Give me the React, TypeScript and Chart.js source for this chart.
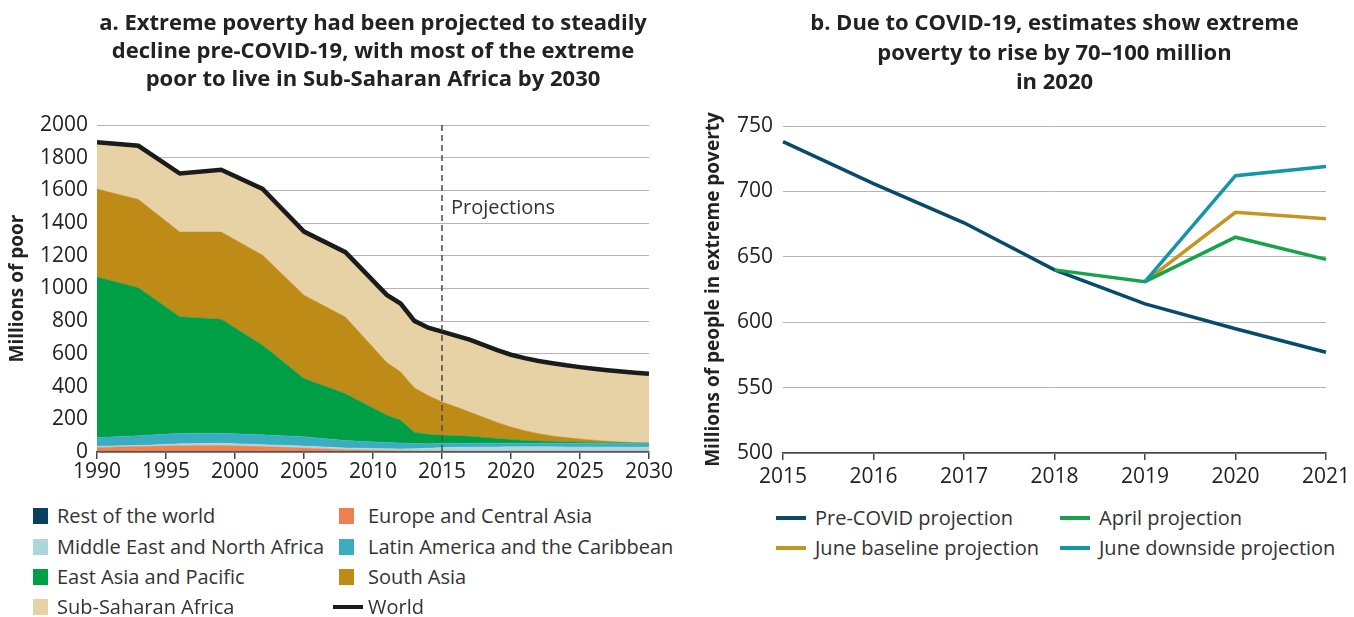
import React, { useEffect, useRef } from 'react';
import { Chart, registerables } from 'chart.js';
Chart.register(...registerables);

const FONT = '"Open Sans", Roboto, "Noto Sans", sans-serif';

// ---- Panel a data (millions of poor) ----
const years = [1990, 1993, 1996, 1999, 2002, 2005, 2008, 2011, 2012, 2013, 2014, 2015, 2016, 2017, 2018, 2019, 2020, 2021, 2022, 2023, 2024, 2025, 2026, 2027, 2028, 2029, 2030];
const restOfWorld = [2, 2, 2, 2, 2, 2, 2, 2, 2, 2, 2, 2, 2, 2, 2, 2, 2, 2, 2, 2, 2, 2, 2, 2, 2, 2, 2];
const europeCentralAsia = [25, 31, 36, 38, 31, 22, 11, 7, 6, 5, 4, 4, 3, 3, 3, 3, 3, 3, 3, 3, 3, 3, 3, 3, 3, 3, 3];
const middleEastNorthAfrica = [8, 7, 12, 13, 12, 12, 12, 11, 11, 13, 17, 21, 24, 25, 26, 26, 27, 27, 27, 27, 26, 26, 26, 26, 25, 25, 25];
const latinAmerica = [53, 60, 64, 62, 61, 58, 45, 38, 36, 32, 27, 26, 25, 24, 23, 23, 22, 22, 22, 22, 23, 22, 22, 22, 23, 23, 22];
const eastAsiaPacific = [983, 904, 713, 697, 547, 355, 287, 167, 139, 67, 58, 49, 45, 42, 35, 28, 22, 17, 13, 10, 8, 7, 5, 4, 3, 2, 2];
const southAsia = [537, 541, 518, 533, 551, 510, 468, 322, 296, 273, 237, 204, 177, 149, 123, 98, 77, 59, 45, 34, 26, 20, 14, 9, 5, 2, 1];
const subSaharanAfrica = [286, 328, 358, 381, 405, 389, 397, 414, 418, 410, 415, 430, 436, 442, 443, 443, 442, 444, 445, 445, 442, 439, 437, 434, 431, 428, 423];
const world = [1894, 1873, 1703, 1726, 1609, 1348, 1222, 961, 908, 802, 760, 736, 712, 687, 655, 623, 595, 574, 557, 543, 530, 519, 509, 500, 492, 485, 478];
const projectionStartYear = 2015;

// ---- Panel b data (millions of people in extreme poverty) ----
const bYears = ['2015', '2016', '2017', '2018', '2019', '2020', '2021'];
const preCovid = [738, 706, 676, 640, 614, 595, 577];
const aprilProj = [null, null, null, 640, 631, 665, 648];
const juneBaseline = [null, null, null, null, 631, 684, 679];
const juneDownside = [null, null, null, null, 631, 712, 719];

const titleA = ['a. Extreme poverty had been projected to steadily', 'decline pre-COVID-19, with most of the extreme', 'poor to live in Sub-Saharan Africa by 2030'];
const titleB = ['b. Due to COVID-19, estimates show extreme', 'poverty to rise by 70\u2013100 million', 'in 2020'];

const C = {
  row: '#0b3f5e',
  eca: '#ef8050',
  mena: '#acd6dd',
  lac: '#3aaec0',
  eap: '#009e45',
  sa: '#be8c16',
  ssa: '#e6d2a5',
  world: '#1b1b1b',
  pre: '#064b6c',
  april: '#17a34c',
  base: '#c59521',
  down: '#1596a8',
};

const regionsA = [
  { label: 'Rest of the world', data: restOfWorld, color: C.row },
  { label: 'Europe and Central Asia', data: europeCentralAsia, color: C.eca },
  { label: 'Middle East and North Africa', data: middleEastNorthAfrica, color: C.mena },
  { label: 'Latin America and the Caribbean', data: latinAmerica, color: C.lac },
  { label: 'East Asia and Pacific', data: eastAsiaPacific, color: C.eap },
  { label: 'South Asia', data: southAsia, color: C.sa },
  { label: 'Sub-Saharan Africa', data: subSaharanAfrica, color: C.ssa },
];

const projectionsPlugin = {
  id: 'projections',
  afterDatasetsDraw(chart: any) {
    const { ctx, chartArea, scales } = chart;
    const x = scales.x.getPixelForValue(projectionStartYear);
    ctx.save();
    ctx.strokeStyle = '#4a4a4a';
    ctx.lineWidth = 1.5;
    ctx.setLineDash([6, 4]);
    ctx.beginPath();
    ctx.moveTo(x, chartArea.top);
    ctx.lineTo(x, chartArea.bottom);
    ctx.stroke();
    ctx.setLineDash([]);
    ctx.fillStyle = '#333';
    ctx.font = '20px ' + FONT;
    ctx.textBaseline = 'middle';
    ctx.textAlign = 'left';
    ctx.fillText('Projections', x + 9, chartArea.top + 83);
    ctx.restore();
  },
};

const tickFont = { family: FONT, size: 21 };
const axisTitleFont = { family: FONT, size: 19, weight: 'bold' as const, lineHeight: 1.2 };

export default function App() {
  const leftRef = useRef<HTMLCanvasElement>(null);
  const rightRef = useRef<HTMLCanvasElement>(null);

  useEffect(() => {
    const datasets: any[] = regionsA.map((r, i) => ({
      label: r.label,
      data: years.map((y, j) => ({ x: y, y: r.data[j] })),
      backgroundColor: r.color,
      borderColor: r.color,
      borderWidth: 0.5,
      pointRadius: 0,
      fill: i === 0 ? 'origin' : '-1',
      stack: 'regions',
      order: 1,
      tension: 0,
    }));
    datasets.push({
      label: 'World',
      data: years.map((y, j) => ({ x: y, y: world[j] })),
      borderColor: C.world,
      borderWidth: 4.5,
      pointRadius: 0,
      fill: false,
      stack: 'world',
      order: 0,
      tension: 0,
    });

    const left = new Chart(leftRef.current!, {
      type: 'line',
      data: { datasets },
      plugins: [projectionsPlugin],
      options: {
        animation: false,
        responsive: false,
        devicePixelRatio: 1,
        layout: { padding: { left: 0, right: 31, top: 0, bottom: 0 } },
        plugins: {
          legend: { display: false },
          tooltip: { enabled: false },
          title: {
            display: true,
            text: titleA,
            font: { family: FONT, size: 22, weight: 'bold', lineHeight: 28 / 22 },
            color: '#222',
            fullSize: false,
            padding: { top: 9.5, bottom: 31.5 },
          },
        },
        scales: {
          x: {
            type: 'linear',
            min: 1990,
            max: 2030,
            afterFit: (s: any) => { s.height = 38; },
            ticks: { stepSize: 5, font: tickFont, color: '#222', padding: 0, callback: (v: any) => String(v), maxRotation: 0 },
            grid: { drawOnChartArea: false, drawTicks: true, tickLength: 7, color: '#444', lineWidth: 1.5 },
            border: { display: true, color: '#444', width: 1.5 },
          },
          y: {
            stacked: true,
            min: 0,
            max: 2000,
            afterFit: (s: any) => { s.width = 97; },
            ticks: { stepSize: 200, font: tickFont, color: '#222', padding: 9, callback: (v: any) => String(v) },
            grid: { drawTicks: false, color: '#b4b4b4', lineWidth: 1 },
            border: { display: false },
            title: { display: true, text: 'Millions of poor', font: axisTitleFont, color: '#222', padding: { top: 6, bottom: 0 } },
          },
        },
      },
    });

    const right = new Chart(rightRef.current!, {
      type: 'line',
      data: {
        labels: bYears,
        datasets: [
          { label: 'June downside projection', data: juneDownside, borderColor: C.down, borderWidth: 3.5, pointRadius: 0, fill: false, order: 0 },
          { label: 'April projection', data: aprilProj, borderColor: C.april, borderWidth: 3.5, pointRadius: 0, fill: false, order: 1 },
          { label: 'June baseline projection', data: juneBaseline, borderColor: C.base, borderWidth: 3.5, pointRadius: 0, fill: false, order: 2 },
          { label: 'Pre-COVID projection', data: preCovid, borderColor: C.pre, borderWidth: 3.5, pointRadius: 0, fill: false, order: 3 },
        ],
      },
      options: {
        animation: false,
        responsive: false,
        devicePixelRatio: 1,
        layout: { padding: { left: 0, right: 25, top: 0, bottom: 0 } },
        plugins: {
          legend: { display: false },
          tooltip: { enabled: false },
          title: {
            display: true,
            text: titleB,
            font: { family: FONT, size: 22, weight: 'bold', lineHeight: 29.5 / 22 },
            color: '#222',
            fullSize: false,
            padding: { top: 9.25, bottom: 28.25 },
          },
        },
        scales: {
          x: {
            type: 'category',
            offset: false,
            afterFit: (s: any) => { s.height = 37; },
            ticks: { font: tickFont, color: '#222', padding: 4, maxRotation: 0 },
            grid: { drawOnChartArea: false, drawTicks: true, tickLength: 7, color: '#444', lineWidth: 1.5 },
            border: { display: true, color: '#444', width: 1.5 },
          },
          y: {
            min: 500,
            max: 750,
            afterFit: (s: any) => { s.width = 103; },
            ticks: { stepSize: 50, font: tickFont, color: '#222', padding: 10 },
            grid: { drawTicks: false, color: '#b4b4b4', lineWidth: 1 },
            border: { display: false },
            title: { display: true, text: 'Millions of people in extreme poverty', font: axisTitleFont, color: '#222', padding: { top: 22, bottom: 0 } },
          },
        },
      },
    });

    return () => { left.destroy(); right.destroy(); };
  }, []);

  const legendText: React.CSSProperties = { fontSize: 20, color: '#333', whiteSpace: 'nowrap', fontFamily: FONT, lineHeight: '24px' };
  const sq = (left: number, cy: number, color: string, label: string, gap: number) => (
    <div key={label} style={{ position: 'absolute', left, top: cy - 12, height: 24, display: 'flex', alignItems: 'center' }}>
      <div style={{ width: 15, height: 16, background: color, marginRight: gap }} />
      <span style={legendText}>{label}</span>
    </div>
  );
  const ln = (left: number, cy: number, color: string, label: string, w: number, h: number, gap: number) => (
    <div key={label} style={{ position: 'absolute', left, top: cy - 12, height: 24, display: 'flex', alignItems: 'center' }}>
      <div style={{ width: w, height: h, background: color, marginRight: gap }} />
      <span style={legendText}>{label}</span>
    </div>
  );

  return (
    <div style={{ position: 'fixed', left: 0, top: 0, width: 1354, height: 617, background: '#fff', fontFamily: FONT }}>
      <canvas ref={leftRef} width={680} height={490} style={{ position: 'absolute', left: 0, top: 0, width: 680, height: 490 }} />
      <canvas ref={rightRef} width={674} height={490} style={{ position: 'absolute', left: 680, top: 0, width: 674, height: 490 }} />
      {sq(33, 516, C.row, regionsA[0].label, 9)}
      {sq(339, 516, C.eca, regionsA[1].label, 14)}
      {sq(33, 547, C.mena, regionsA[2].label, 9)}
      {sq(339, 547, C.lac, regionsA[3].label, 14)}
      {sq(33, 577, C.eap, regionsA[4].label, 9)}
      {sq(339, 577, C.sa, regionsA[5].label, 14)}
      {sq(33, 607, C.ssa, regionsA[6].label, 9)}
      {ln(333, 607, C.world, 'World', 30, 4, 5)}
      {ln(776, 518, C.pre, 'Pre-COVID projection', 30, 4, 9)}
      {ln(1060, 518, C.april, 'April projection', 30, 4, 9)}
      {ln(776, 548, C.base, 'June baseline projection', 30, 4, 9)}
      {ln(1060, 548, C.down, 'June downside projection', 30, 4, 9)}
    </div>
  );
}
